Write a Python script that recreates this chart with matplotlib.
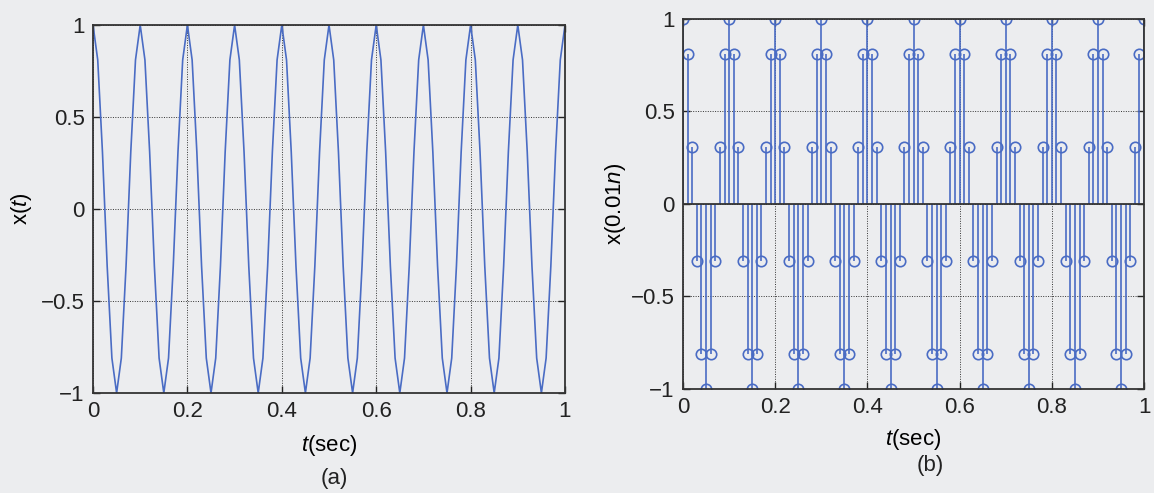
import numpy as np
import matplotlib
matplotlib.use("Agg")
import matplotlib.pyplot as plt

# one period of the sampled cosine (10 samples), repeated over 1 s
one_period = [1.0, 0.81, 0.31, -0.31, -0.81, -1.0, -0.81, -0.31, 0.31, 0.81]
x_samples = one_period * 10 + [1.0]
n = np.arange(len(x_samples))
t = 0.01 * n

x_ticks = [0, 0.2, 0.4, 0.6, 0.8, 1]
x_ticklabels = ["0", "0.2", "0.4", "0.6", "0.8", "1"]
y_ticks = [-1, -0.5, 0, 0.5, 1]
y_ticklabels = ["\u22121", "\u22120.5", "0", "0.5", "1"]

blue = "#4a6cc4"
paper = "#ecedef"

plt.rcParams["font.family"] = ["Liberation Sans", "DejaVu Sans"]
plt.rcParams["mathtext.fontset"] = "custom"
plt.rcParams["mathtext.rm"] = "Liberation Sans"
plt.rcParams["mathtext.it"] = "Liberation Sans:italic"


def style_axes(ax):
    ax.set_xlim(0, 1)
    ax.set_ylim(-1, 1)
    ax.set_facecolor(paper)
    ax.set_xticks(x_ticks)
    ax.set_xticklabels(x_ticklabels)
    ax.set_yticks(y_ticks)
    ax.set_yticklabels(y_ticklabels)
    ax.tick_params(direction="in", length=5, width=1, top=True, right=True,
                   labelsize=16, pad=6, colors="#222222")
    ax.grid(True, linestyle=(0, (1, 1.5)), color="#333333", linewidth=0.7)
    for s in ax.spines.values():
        s.set_linewidth(1.3)
        s.set_color("#333333")


fig = plt.figure(figsize=(11.54, 4.93), dpi=100)
fig.patch.set_facecolor(paper)

# (a) continuous plot
ax1 = fig.add_axes([0.0806, 0.2028, 0.409, 0.7465])
style_axes(ax1)
ax1.plot(t, x_samples, color=blue, linewidth=1.2)
ax1.set_xlabel(r"$\mathit{t}$(sec)", fontsize=16, labelpad=8)
ax1.set_ylabel(r"x($\mathit{t}$)", fontsize=16, labelpad=5)
fig.text(0.29, 0.030, "(a)", ha="center", va="center", fontsize=16,
         color="#222222")

# (b) stem plot of the samples
ax2 = fig.add_axes([0.5919, 0.2110, 0.3995, 0.7505])
style_axes(ax2)
markers, stems, base = ax2.stem(t, x_samples, basefmt="k-")
plt.setp(stems, color=blue, linewidth=1.2)
plt.setp(markers, markerfacecolor="none", markeredgecolor=blue,
         markersize=7.5, markeredgewidth=1.2)
plt.setp(base, color="#333333", linewidth=1.3)
ax2.set_xlabel(r"$\mathit{t}$(sec)", fontsize=16, labelpad=6)
ax2.set_ylabel(r"x(0.01$\mathit{n}$)", fontsize=16, labelpad=2)
fig.text(0.806, 0.055, "(b)", ha="center", va="center", fontsize=16,
         color="#222222")

fig.savefig("out.png", dpi=100, facecolor=fig.get_facecolor())
